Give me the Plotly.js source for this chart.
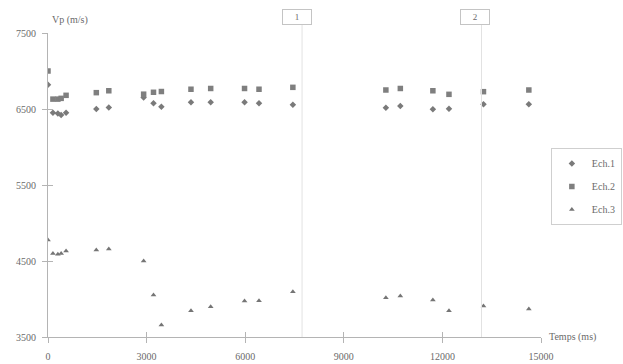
<!DOCTYPE html>
<html>
<head>
<meta charset="utf-8">
<script src="https://cdn.plot.ly/plotly-3.0.1.min.js"></script>
<style>html,body{margin:0;padding:0;background:#fff;}#chart{width:623px;height:364px;}</style>
</head>
<body>
<div id="chart"></div>
<script>
// Time (ms)
const temps = [0,150,300,400,550,1470,1850,2910,3210,3450,4350,4950,5980,6420,7450,10280,10720,11710,12200,13250,14630];
// Vp (m/s) per sample
const ech1 = [6820,6450,6440,6420,6450,6500,6520,6650,6575,6530,6590,6590,6590,6575,6555,6517,6540,6496,6504,6562,6562];
const ech2 = [7000,6630,6630,6640,6680,6715,6740,6695,6720,6730,6760,6770,6770,6760,6785,6750,6770,6740,6693,6728,6750];
const ech3 = [4776,4600,4590,4600,4630,4645,4658,4500,4053,3658,3846,3899,3974,3978,4096,4017,4039,3987,3846,3908,3868];
const seriesNames = ['Ech.1','Ech.2','Ech.3'];
// event markers (time) and their labels
const eventTimes = [7730, 13190];
const eventLabelTimes = [7570, 12990];
const eventLabels = ['1','2'];
const xTicks = [0,3000,6000,9000,12000,15000];
const yTicks = [3500,4500,5500,6500,7500];

const serif = 'Liberation Serif, Times New Roman, serif';
const txt = '#6a6a6a';
const axisCol = '#b4b4b4';

const traces = [
  {x: temps, y: ech1, name: seriesNames[0], type:'scatter', mode:'markers',
   marker:{symbol:'diamond', size:5, color:'#7a7a7a'}, legendgroup:'a'},
  {x: temps, y: ech2, name: seriesNames[1], type:'scatter', mode:'markers',
   marker:{symbol:'square', size:5.5, color:'#7f7f7f'}, legendgroup:'b'},
  {x: temps, y: ech3, name: seriesNames[2], type:'scatter', mode:'markers',
   marker:{symbol:'triangle-up', size:5, color:'#757575'}, legendgroup:'c'},
  {x: [], y: [], xaxis:'x2', yaxis:'y2', showlegend:false, hoverinfo:'skip', type:'scatter'}
];

const axBase = {showgrid:false, zeroline:false, showline:true, linecolor:axisCol, linewidth:1,
  ticks:'outside', ticklen:5, tickcolor:axisCol, tickwidth:1,
  tickfont:{family:serif, size:10, color:txt}};

const shapes = eventTimes.map(t => ({type:'line', xref:'x', yref:'paper', x0:t, x1:t, y0:0, y1:1.03,
  line:{color:'#e2e2e2', width:1}}));

const annotations = eventLabels.map((lab,i) => ({xref:'x', yref:'paper', x:eventLabelTimes[i], y:1.053,
  xanchor:'center', yanchor:'middle',
  text:lab, showarrow:false, font:{family:serif, size:9, color:txt},
  bordercolor:'#c4c4c4', borderwidth:1, width:26, height:12, bgcolor:'#fff'}));
annotations.push({xref:'paper', yref:'paper', x:1, y:0, xanchor:'left', yanchor:'middle', xshift:6,
  text:'Temps (ms)', showarrow:false, font:{family:serif, size:10, color:txt}});
annotations.push({xref:'paper', yref:'paper', x:0, y:1, xanchor:'left', yanchor:'bottom', xshift:2, yshift:5,
  text:'Vp (m/s)', showarrow:false, font:{family:serif, size:10, color:txt}});

const layout = {
  width:623, height:364,
  margin:{l:48, r:82, t:33, b:27, autoexpand:false},
  paper_bgcolor:'#fff', plot_bgcolor:'#fff',
  showlegend:true,
  xaxis: Object.assign({}, axBase, {range:[0,15000], tickvals:xTicks, ticktext:xTicks.map(String), ticklabelstandoff:5, automargin:false}),
  yaxis: Object.assign({}, axBase, {range:[3500,7500], tickvals:yTicks, ticktext:yTicks.map(String), ticklabelstandoff:4, automargin:false}),
  xaxis2: Object.assign({}, axBase, {range:[0,15000], tickvals:xTicks, overlaying:'x', anchor:'y2', ticks:'inside', showticklabels:false}),
  yaxis2: Object.assign({}, axBase, {range:[3500,7500], tickvals:yTicks, overlaying:'y', anchor:'x2', ticks:'inside', showticklabels:false}),
  legend:{x:1.02, y:0.622, xanchor:'left', yanchor:'top', bordercolor:'#cfcfcf', borderwidth:1,
    font:{family:serif, size:10, color:txt}, traceorder:'grouped', tracegroupgap:4, itemwidth:30},
  shapes: shapes,
  annotations: annotations
};

Plotly.newPlot('chart', traces, layout, {displayModeBar:false, staticPlot:true});
</script>
</body>
</html>
